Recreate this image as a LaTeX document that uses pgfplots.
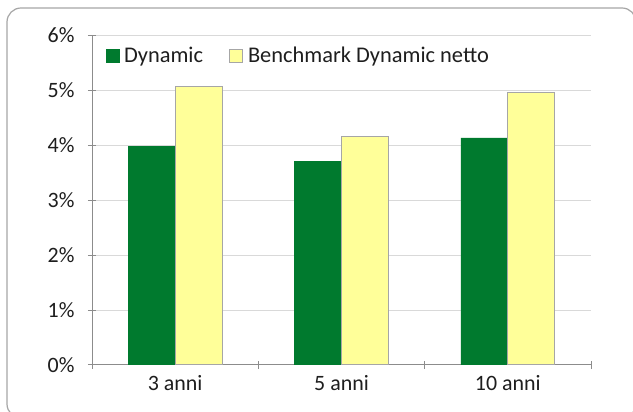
\documentclass[border=0pt]{standalone}
\usepackage{pgfplots}
\pgfplotsset{compat=1.18}
\usepackage{fontspec}
\setmainfont{Carlito}
\definecolor{dgreen}{RGB}{0,122,46}
\definecolor{pyellow}{RGB}{255,255,153}
\definecolor{ybord}{RGB}{166,166,166}
\definecolor{gridc}{RGB}{217,217,217}
\definecolor{axc}{RGB}{140,140,140}
\definecolor{txt}{RGB}{30,30,30}
\begin{document}
\begin{tikzpicture}
\useasboundingbox (0bp,0bp) rectangle (633bp,412bp);
\fill[white] (0bp,0bp) rectangle (633bp,412bp);
\draw[color=ybord, line width=1.2bp, rounded corners=14bp] (7bp,-6bp) rectangle (636bp,404bp);
\begin{axis}[
  at={(92bp,47bp)}, anchor=south west,
  scale only axis, width=499bp, height=330bp,
  ybar=0pt, bar width=47bp,
  xmin=-0.5, xmax=2.5, ymin=0, ymax=6,
  xtick={0,1,2}, xticklabels={3 anni,5 anni,10 anni},
  minor xtick={-0.5,0.5,1.5,2.5},
  ytick={0,1,2,3,4,5,6},
  yticklabels={0\%,1\%,2\%,3\%,4\%,5\%,6\%},
  tick align=outside,
  x tick style={draw=none},
  minor x tick style={draw=axc, line width=1bp},
  minor tick length=7bp,
  y tick style={draw=axc, line width=1bp},
  major tick length=8bp,
  axis lines=left,
  axis line style={-, draw=axc, line width=1bp},
  ymajorgrids, grid style={draw=gridc, line width=1bp},
  tick label style={font=\fontsize{22}{26}\selectfont, text=txt},
  yticklabel style={xshift=-10bp},
  xticklabel style={yshift=-3bp},
  legend columns=2,
  legend cell align=left,
  legend style={draw=none, fill=none, at={(0.021,0.937)}, anchor=west,
    font=\fontsize{22.5}{26}\selectfont, text=txt,
    /tikz/every odd column/.append style={column sep=2bp},
    /tikz/every even column/.append style={column sep=23bp},
    nodes={inner xsep=3bp}},
  legend image code/.code={\draw[#1] (0bp,-6.5bp) rectangle (13bp,6.5bp);},
]
\addplot[fill=dgreen, draw=dgreen] coordinates {(0,3.98) (1,3.70) (2,4.13)};
\addplot[fill=pyellow, draw=ybord, line width=1bp] coordinates {(0,5.06) (1,4.16) (2,4.96)};
\legend{Dynamic, Benchmark Dynamic netto}
\end{axis}
\end{tikzpicture}
\end{document}
